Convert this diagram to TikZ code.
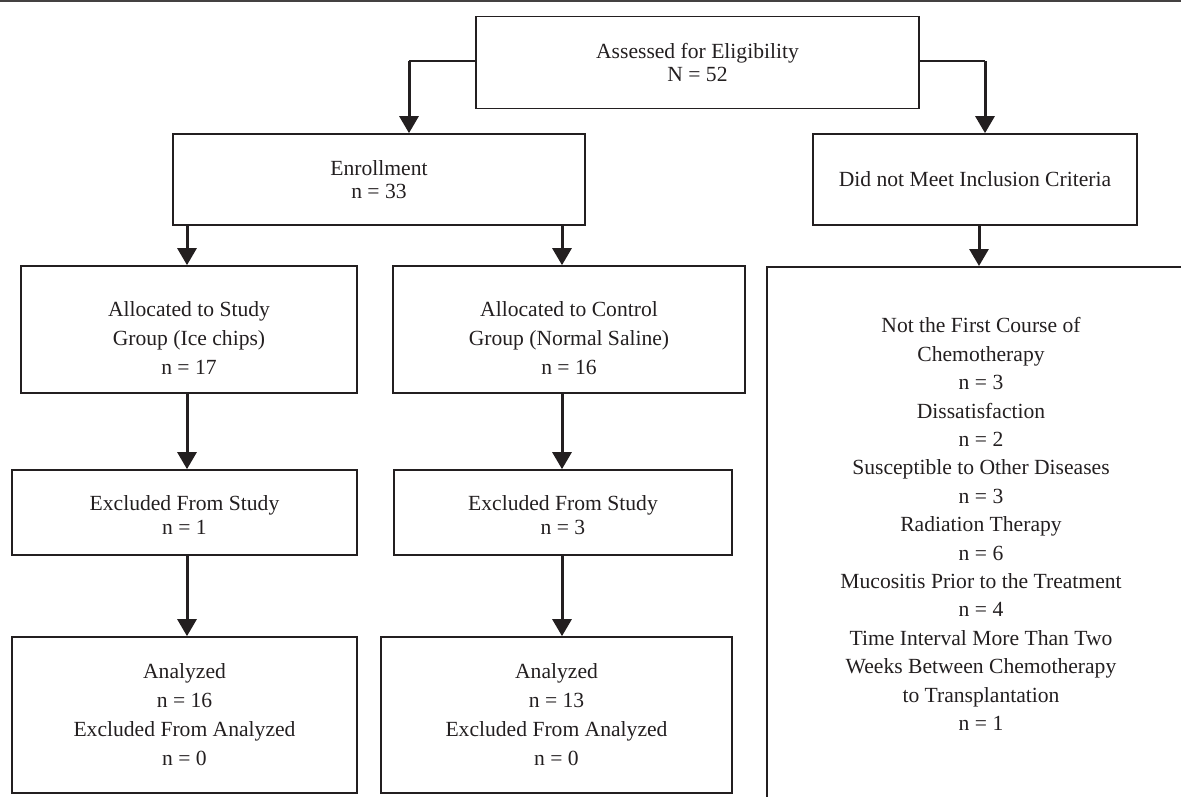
\documentclass[tikz,border=0pt]{standalone}
\usepackage{fontspec}
\setmainfont{Liberation Serif}
\usetikzlibrary{arrows.meta,positioning,calc}
\definecolor{ink}{RGB}{35,31,32}
\newcommand\fsA{\fontsize{21.6}{23.5}\selectfont}
\newcommand\fsB{\fontsize{21.6}{29}\selectfont}
\newcommand\fsC{\fontsize{21.6}{28.4}\selectfont}
\begin{document}
\begin{tikzpicture}[x=1pt,y=-1pt,
  box/.style={draw=ink, line width=1.7pt, align=center, inner sep=0pt, text=ink, font=\fsA},
  txt/.style={align=center, inner sep=0pt, text=ink},
  arr/.style={draw=ink, line width=3pt, -{Triangle[width=19pt,length=17pt]}},
  thin/.style={draw=ink, line width=1.7pt}]
\useasboundingbox (0,0) rectangle (1181,797);
\clip (0,0) rectangle (1181,797);
\draw[draw=ink!85, line width=1.8pt] (0,1) -- (1181,1);

\node[box, minimum width=443pt, minimum height=92pt] (assess) at (697.5,62.5) {Assessed for Eligibility\\N = 52};
\node[box, minimum width=412pt, minimum height=91pt] (enroll) at (379,179.5) {Enrollment\\n = 33};
\node[box, minimum width=324pt, minimum height=91pt] (dnm) at (975,179.5) {Did not Meet Inclusion Criteria};

\node[box, minimum width=336pt, minimum height=127pt] (a1) at (189,329.5) {};
\node[txt, font=\fsB] (a1t) at (189,338) {Allocated to Study\\Group (Ice chips)\\n = 17};
\node[box, minimum width=352pt, minimum height=127pt] (a2) at (569,329.5) {};
\node[txt, font=\fsB] (a2t) at (569,338) {Allocated to Control\\Group (Normal Saline)\\n = 16};

\node[box, minimum width=345pt, minimum height=85pt] (e1) at (184.5,512.5) {};
\node[txt, font=\fsA] (e1t) at (184.5,515) {Excluded From Study\\n = 1};
\node[box, minimum width=338pt, minimum height=85pt] (e2) at (563,512.5) {};
\node[txt, font=\fsA] (e2t) at (563,515) {Excluded From Study\\n = 3};

\node[box, font=\fsB, minimum width=345pt, minimum height=156pt] (an1) at (184.5,715) {Analyzed\\n = 16\\Excluded From Analyzed\\n = 0};
\node[box, font=\fsB, minimum width=351pt, minimum height=156pt] (an2) at (556.5,715) {Analyzed\\n = 13\\Excluded From Analyzed\\n = 0};

\node[box, anchor=north west, minimum width=460pt, minimum height=560pt] (big) at (766,266) {};
\node[txt, font=\fsC] (bigtext) at (981,524) {Not the First Course of\\Chemotherapy\\n = 3\\Dissatisfaction\\n = 2\\Susceptible to Other Diseases\\n = 3\\Radiation Therapy\\n = 6\\Mucositis Prior to the Treatment\\n = 4\\Time Interval More Than Two\\Weeks Between Chemotherapy\\to Transplantation\\n = 1};

% top split
\coordinate (cl) at (409,61);
\coordinate (cr) at (985,61);
\draw[thin] (assess.west |- cl) -- (cl);
\draw[arr] (cl) -- (cl |- enroll.north);
\draw[thin] (assess.east |- cr) -- (cr);
\draw[arr] (cr) -- (cr |- dnm.north);

% vertical connectors
\coordinate (x1) at (187,0);
\coordinate (x2) at (562,0);
\coordinate (x3) at (979,0);
\draw[arr] (x1 |- enroll.south) -- (x1 |- a1.north);
\draw[arr] (x2 |- enroll.south) -- (x2 |- a2.north);
\draw[arr] (x3 |- dnm.south) -- (x3 |- big.north);

\draw[arr] (x1 |- a1.south) -- (x1 |- e1.north);
\draw[arr] (x2 |- a2.south) -- (x2 |- e2.north);
\draw[arr] (x1 |- e1.south) -- (x1 |- an1.north);
\draw[arr] (x2 |- e2.south) -- (x2 |- an2.north);
\end{tikzpicture}
\end{document}
